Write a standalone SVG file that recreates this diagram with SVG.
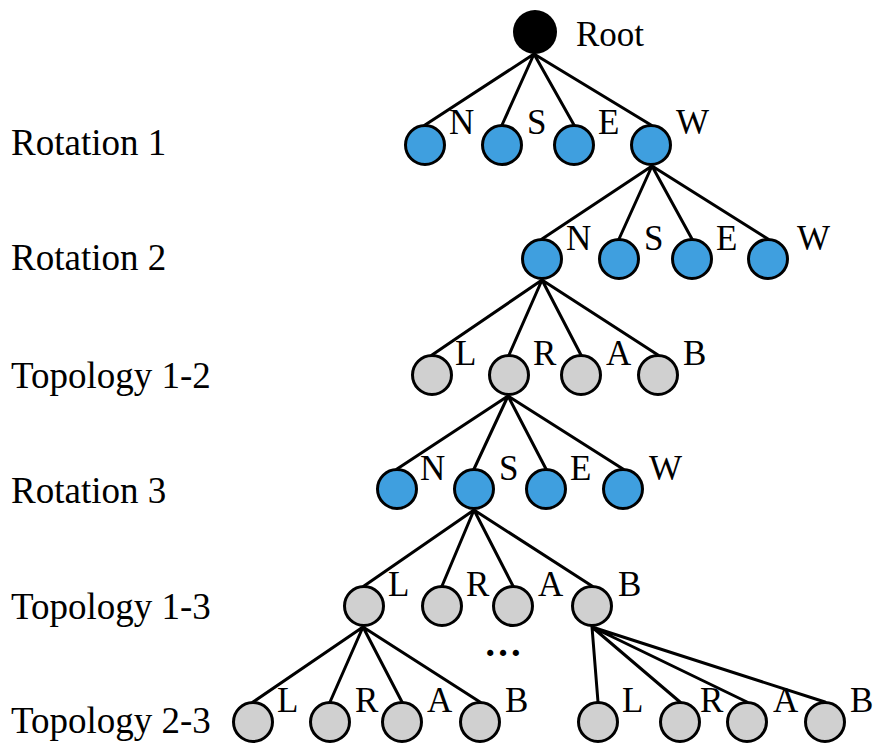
<svg xmlns="http://www.w3.org/2000/svg" width="873" height="747" viewBox="0 0 873 747">
<style>
text{font-family:"Liberation Serif","Times New Roman",serif;fill:#000}
.lvl{font-size:37px}
.lb{font-size:35px}
.b{fill:#3f9fdf;stroke:#000;stroke-width:3}
.g{fill:#d0d0d0;stroke:#000;stroke-width:3}
.e{stroke:#000;stroke-width:3;fill:none;stroke-linecap:round}
</style>
<rect width="873" height="747" fill="#fff"/>
<g id="levels">
<text class="lvl" x="11" y="155">Rotation 1</text>
<text class="lvl" x="11" y="270">Rotation 2</text>
<text class="lvl" x="11" y="388">Topology 1-2</text>
<text class="lvl" x="11" y="503">Rotation 3</text>
<text class="lvl" x="11" y="619">Topology 1-3</text>
<text class="lvl" x="11" y="733">Topology 2-3</text>
</g>
<g id="connectors">
<path class="e" d="M534 54L425 125M534 54L502 125M534 54L574 125M534 54L651 125"/>
<path class="e" d="M652 166L542 239M652 166L619 239M652 166L692 239M652 166L768 239"/>
<path class="e" d="M542 280L432 355M542 280L509 355M542 280L581 355M542 280L658 355"/>
<path class="e" d="M508 396L397 469M508 396L474 469M508 396L546 469M508 396L623 469"/>
<path class="e" d="M474 510L364 586M474 510L442 586M474 510L513 586M474 510L592 586"/>
<path class="e" d="M363 627L253 702M363 627L330 702M363 627L402 702M363 627L480 702"/>
<path class="e" d="M592 627L598 702M592 627L680 702M592 627L747 702M592 627L825 702"/>
</g>
<g id="root"><circle cx="535" cy="32" r="22" fill="#000"/><text class="lb" x="576" y="46">Root</text></g>
<g id="r1-N"><circle class="b" cx="425" cy="145" r="19.5"/><text class="lb" x="449" y="134">N</text></g>
<g id="r1-S"><circle class="b" cx="502" cy="145" r="19.5"/><text class="lb" x="527" y="134">S</text></g>
<g id="r1-E"><circle class="b" cx="574" cy="145" r="19.5"/><text class="lb" x="598" y="134">E</text></g>
<g id="r1-W"><circle class="b" cx="651" cy="145" r="19.5"/><text class="lb" x="676" y="134">W</text></g>
<g id="r2-N"><circle class="b" cx="542" cy="259" r="19.5"/><text class="lb" x="566" y="250">N</text></g>
<g id="r2-S"><circle class="b" cx="619" cy="259" r="19.5"/><text class="lb" x="644" y="250">S</text></g>
<g id="r2-E"><circle class="b" cx="692" cy="259" r="19.5"/><text class="lb" x="716" y="250">E</text></g>
<g id="r2-W"><circle class="b" cx="768" cy="259" r="19.5"/><text class="lb" x="797" y="250">W</text></g>
<g id="t12-L"><circle class="g" cx="432" cy="375" r="19.5"/><text class="lb" x="455" y="365">L</text></g>
<g id="t12-R"><circle class="g" cx="509" cy="375" r="19.5"/><text class="lb" x="533" y="365">R</text></g>
<g id="t12-A"><circle class="g" cx="581" cy="375" r="19.5"/><text class="lb" x="606" y="365">A</text></g>
<g id="t12-B"><circle class="g" cx="658" cy="375" r="19.5"/><text class="lb" x="683" y="365">B</text></g>
<g id="r3-N"><circle class="b" cx="397" cy="489" r="19.5"/><text class="lb" x="420" y="480">N</text></g>
<g id="r3-S"><circle class="b" cx="474" cy="489" r="19.5"/><text class="lb" x="499" y="480">S</text></g>
<g id="r3-E"><circle class="b" cx="546" cy="489" r="19.5"/><text class="lb" x="570" y="480">E</text></g>
<g id="r3-W"><circle class="b" cx="623" cy="489" r="19.5"/><text class="lb" x="649" y="480">W</text></g>
<g id="t13-L"><circle class="g" cx="364" cy="606" r="19.5"/><text class="lb" x="388" y="596">L</text></g>
<g id="t13-R"><circle class="g" cx="442" cy="606" r="19.5"/><text class="lb" x="466" y="596">R</text></g>
<g id="t13-A"><circle class="g" cx="513" cy="606" r="19.5"/><text class="lb" x="538" y="596">A</text></g>
<g id="t13-B"><circle class="g" cx="592" cy="606" r="19.5"/><text class="lb" x="618" y="596">B</text></g>
<g id="ellipsis"><text x="503" y="656" text-anchor="middle" font-size="38" font-weight="bold">…</text></g>
<g id="t23a-L"><circle class="g" cx="253" cy="722" r="19.5"/><text class="lb" x="277" y="712">L</text></g>
<g id="t23a-R"><circle class="g" cx="330" cy="722" r="19.5"/><text class="lb" x="355" y="712">R</text></g>
<g id="t23a-A"><circle class="g" cx="402" cy="722" r="19.5"/><text class="lb" x="427" y="712">A</text></g>
<g id="t23a-B"><circle class="g" cx="480" cy="722" r="19.5"/><text class="lb" x="505" y="712">B</text></g>
<g id="t23b-L"><circle class="g" cx="598" cy="722" r="19.5"/><text class="lb" x="622" y="712">L</text></g>
<g id="t23b-R"><circle class="g" cx="680" cy="722" r="19.5"/><text class="lb" x="700" y="712">R</text></g>
<g id="t23b-A"><circle class="g" cx="747" cy="722" r="19.5"/><text class="lb" x="773" y="712">A</text></g>
<g id="t23b-B"><circle class="g" cx="825" cy="722" r="19.5"/><text class="lb" x="850" y="712">B</text></g>
</svg>
